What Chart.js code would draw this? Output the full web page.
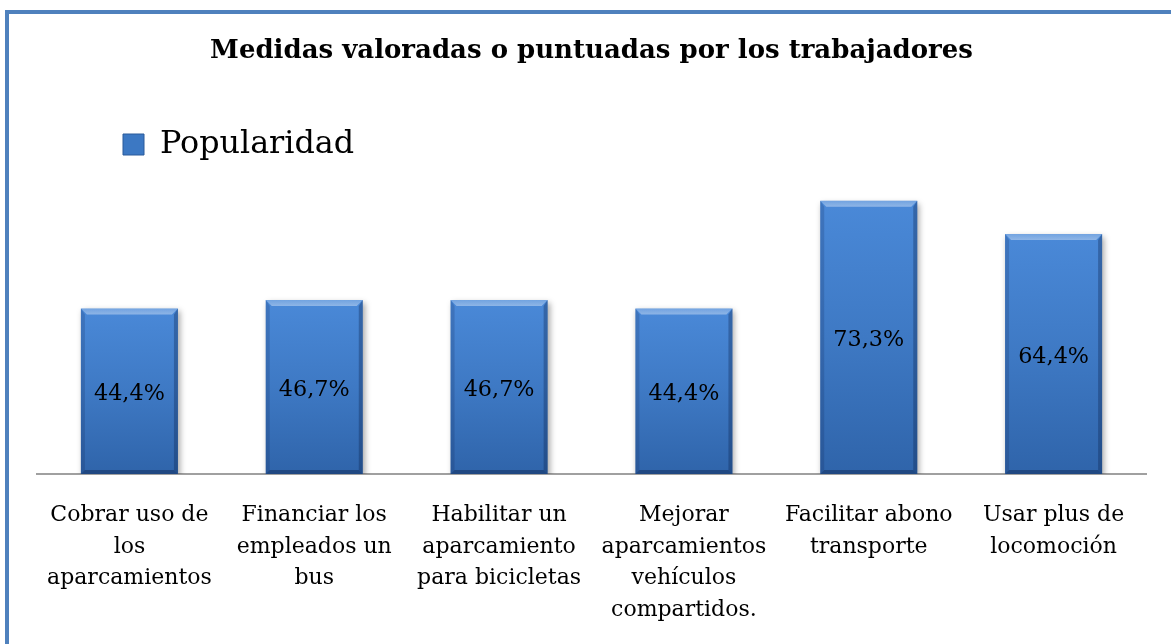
<!DOCTYPE html>
<html><head><meta charset="utf-8">
<script src="https://cdn.jsdelivr.net/npm/chart.js@4"></script>
<style>
html,body{margin:0;padding:0;background:#fff;}
#wrap{position:relative;width:1171px;height:644px;overflow:hidden;}
#frame{position:absolute;left:5px;top:10px;width:1200px;height:700px;border-left:4px solid #4F81BD;border-top:4px solid #4F81BD;box-sizing:border-box;}
canvas{position:absolute;left:0;top:0;}
</style></head><body>
<div id="wrap"><div id="frame"></div><canvas id="c" width="1171" height="644"></canvas></div>
<script>
const chartTitle = "Medidas valoradas o puntuadas por los trabajadores";
const seriesName = "Popularidad";
const categories = [
  ["Cobrar uso de", "los", "aparcamientos"],
  ["Financiar los", "empleados un", "bus"],
  ["Habilitar un", "aparcamiento", "para bicicletas"],
  ["Mejorar", "aparcamientos", "vehículos", "compartidos."],
  ["Facilitar abono", "transporte"],
  ["Usar plus de", "locomoción"]
];
const values = [44.4, 46.7, 46.7, 44.4, 73.3, 64.4];
const valueLabels = ["44,4%", "46,7%", "46,7%", "44,4%", "73,3%", "64,4%"];

const FONT = '"DejaVu Serif", serif';
const TITLE_SIZE = 26, LEGEND_SIZE = 31.8, TICK_SIZE = 22, LABEL_SIZE = 22.3;
const LEGEND_PAD = 86;
const titleBoxBottom = 134 - LEGEND_PAD - (LEGEND_SIZE - 21) / 2;
const titlePadTop = 51.5 - 0.6 * TITLE_SIZE;
const titlePadBottom = titleBoxBottom - titlePadTop - 1.2 * TITLE_SIZE;
const yMax = (474 - (titleBoxBottom + LEGEND_SIZE + LEGEND_PAD + 10)) / 3.728;

const shadowPlugin = {
  id: 'barShadow',
  beforeDatasetDraw(chart) {
    const ctx = chart.ctx; ctx.save();
    ctx.shadowColor = 'rgba(0,0,0,0.35)'; ctx.shadowBlur = 6; ctx.shadowOffsetX = 2; ctx.shadowOffsetY = 3;
  },
  afterDatasetDraw(chart) { chart.ctx.restore(); }
};
const bevelPlugin = {
  id: 'bevel',
  afterDatasetsDraw(chart) {
    const ctx = chart.ctx;
    const meta = chart.getDatasetMeta(0);
    ctx.save();
    meta.data.forEach((bar) => {
      const p = bar.getProps(['x', 'y', 'base', 'width'], true);
      const l = p.x - p.width / 2, r = p.x + p.width / 2, t = p.y, b = p.base, e = 4, et = 6;
      const poly = (pts, col) => { ctx.beginPath(); ctx.moveTo(pts[0][0], pts[0][1]); for (let i = 1; i < pts.length; i++) ctx.lineTo(pts[i][0], pts[i][1]); ctx.closePath(); ctx.fillStyle = col; ctx.fill(); };
      const tg = ctx.createLinearGradient(0, t, 0, t + et);
      tg.addColorStop(0, 'rgba(255,255,255,0.22)');
      tg.addColorStop(1, 'rgba(255,255,255,0.38)');
      poly([[l, t], [r, t], [r - et, t + et], [l + et, t + et]], tg);
      poly([[l, t], [l + e, t + et], [l + e, b - e], [l, b]], 'rgba(10,30,70,0.18)');
      poly([[r, t], [r, b], [r - e, b - e], [r - e, t + et]], 'rgba(10,30,70,0.32)');
      poly([[l, b], [l + e, b - e], [r - e, b - e], [r, b]], 'rgba(10,30,70,0.40)');
    });
    ctx.restore();
  }
};
const valueLabelPlugin = {
  id: 'valueLabels',
  afterDatasetsDraw(chart) {
    const ctx = chart.ctx;
    const meta = chart.getDatasetMeta(0);
    ctx.save();
    ctx.font = LABEL_SIZE + 'px ' + FONT;
    ctx.fillStyle = '#000';
    ctx.textAlign = 'center';
    ctx.textBaseline = 'middle';
    meta.data.forEach((bar, i) => {
      const p = bar.getProps(['x', 'y', 'base'], true);
      ctx.fillText(valueLabels[i], p.x, (p.y + p.base) / 2 + 3);
    });
    ctx.restore();
  }
};

new Chart(document.getElementById('c'), {
  type: 'bar',
  data: {
    labels: categories,
    datasets: [{
      label: seriesName,
      data: values,
      backgroundColor: (ctx) => {
        const chart = ctx.chart;
        if (!chart.chartArea || ctx.dataIndex === undefined) return '#3C78C3';
        const ys = chart.scales.y;
        const top = ys.getPixelForValue(values[ctx.dataIndex]);
        const bot = ys.getPixelForValue(0);
        const g = chart.ctx.createLinearGradient(0, top, 0, bot);
        g.addColorStop(0, '#4A89D8');
        g.addColorStop(0.5, '#3E79C4');
        g.addColorStop(1, '#2F64AA');
        return g;
      },
      borderWidth: 0,
      categoryPercentage: 1,
      barPercentage: 0.525
    }]
  },
  options: {
    responsive: false,
    animation: false,
    layout: { padding: { left: 37, right: 25, top: 0, bottom: 0 } },
    plugins: {
      title: {
        display: true,
        text: chartTitle,
        color: '#000',
        font: { family: FONT, size: TITLE_SIZE, weight: 'bold', lineHeight: 1.2 },
        padding: { top: titlePadTop, bottom: titlePadBottom }
      },
      legend: {
        display: true,
        position: 'top',
        align: 'start',
        labels: {
          color: '#000',
          font: { family: FONT, size: LEGEND_SIZE },
          boxWidth: 21,
          boxHeight: 21,
          padding: LEGEND_PAD,
          generateLabels: () => [{ text: seriesName, fillStyle: '#3C78C3', strokeStyle: '#2A5A9A', lineWidth: 1, datasetIndex: 0 }]
        }
      },
      tooltip: { enabled: false }
    },
    scales: {
      x: {
        grid: { display: false, drawTicks: false },
        border: { display: true, color: '#A0A0A0', width: 2 },
        ticks: { color: '#000', padding: 26, maxRotation: 0, autoSkip: false, font: { family: FONT, size: TICK_SIZE, lineHeight: '31.5px' } },
        afterFit: (scale) => { scale.height = 170; }
      },
      y: { display: false, min: 0, max: yMax }
    }
  },
  plugins: [shadowPlugin, bevelPlugin, valueLabelPlugin]
});
</script>
</body></html>
